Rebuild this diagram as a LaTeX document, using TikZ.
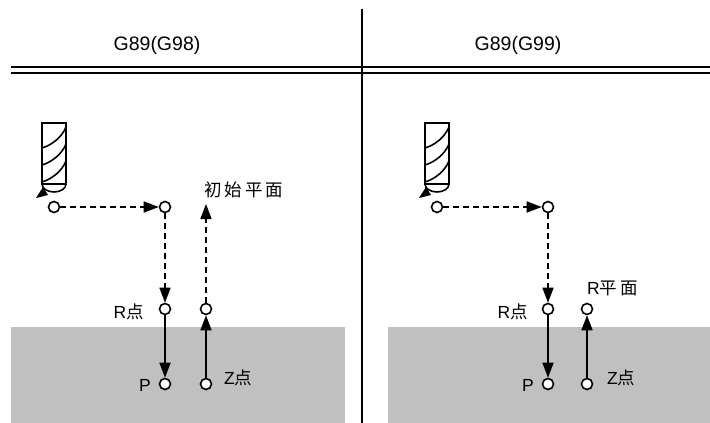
\documentclass[tikz,border=0pt]{standalone}
\usepackage{fontspec}
\setmainfont{Liberation Sans}
\newfontfamily\cjk{Noto Sans CJK SC}
\usetikzlibrary{arrows.meta}
\definecolor{ground}{RGB}{192,192,192}
\newcommand\millcutter[1]{%
  \begin{scope}[shift={#1},line width=1.6pt]
    \draw (-12,-23) rectangle (12,-84);
    \draw (-12,-23) arc[start angle=180,end angle=0,x radius=12,y radius=8];
    \draw (-12,-59) .. controls (-2,-62) and (8,-70) .. (12,-80);
    \draw (-12,-42) .. controls (-2,-45) and (8,-53) .. (12,-63);
    \draw (-12,-25) .. controls (-2,-28) and (8,-36) .. (12,-46);
    \fill (-11,-20) -- (-6,-12) -- (-18,-9) -- cycle;
  \end{scope}}
\begin{document}
\begin{tikzpicture}[x=1pt,y=-1pt,
  pnt/.style={circle,draw,fill=white,line width=1.6pt,minimum size=11pt,inner sep=0pt},
  arr/.style={-{Triangle[length=15pt,width=11pt]},line width=1.6pt},
  dsh/.style={arr,dash pattern=on 6pt off 4pt},
  lbl/.style={font=\fontsize{17.5}{17.5}\selectfont,inner sep=0pt},
  ttl/.style={font=\fontsize{19.5}{19.5}\selectfont,inner sep=0pt}]
\useasboundingbox (0,0) rectangle (710,423);
\fill[ground] (11,327) rectangle (345,423);
\fill[ground] (388,327) rectangle (710,423);
\draw[line width=2pt] (11,67) -- (710,67);
\draw[line width=1.5pt] (11,73) -- (710,73);
\draw[line width=1.8pt] (362,9) -- (362,423);
\node[ttl] (h1) at (157,45) {G89(G98)};
\node[ttl] (h2) at (518,45) {G89(G99)};
% left panel
\millcutter{(54,207)}
\node[pnt] (a1) at (54,207) {};
\node[pnt] (b1) at (165,207) {};
\node[pnt] (r1) at (165,309) {};
\node[pnt] (p1) at (165,384) {};
\node[pnt] (u1) at (206,309) {};
\node[pnt] (z1) at (206,384) {};
\coordinate (top1) at (206,204);
\draw[dsh] (a1) -- (b1);
\draw[dsh] (b1) -- (r1);
\draw[arr] (r1) -- (p1);
\draw[arr] (z1) -- (u1);
\draw[dsh] (u1) -- (top1);
\node[lbl] (t1) at (244,190) {\cjk 初\hspace{3pt}始\hspace{3pt}平\hspace{3pt}面};
\node[lbl,anchor=east] (lr1) at (144,312) {R\cjk 点};
\node[lbl,anchor=east] (lp1) at (151,385) {P};
\node[lbl,anchor=west] (lz1) at (224,378) {Z\cjk 点};
% right panel
\millcutter{(437,207)}
\node[pnt] (a2) at (437,207) {};
\node[pnt] (b2) at (548,207) {};
\node[pnt] (r2) at (548,309) {};
\node[pnt] (p2) at (548,384) {};
\node[pnt] (u2) at (587,309) {};
\node[pnt] (z2) at (587,384) {};
\draw[dsh] (a2) -- (b2);
\draw[dsh] (b2) -- (r2);
\draw[arr] (r2) -- (p2);
\draw[arr] (z2) -- (u2);
\node[lbl,anchor=west] (t2) at (587,288) {R\cjk 平\hspace{3pt}面};
\node[lbl,anchor=east] (lr2) at (528,312) {R\cjk 点};
\node[lbl,anchor=east] (lp2) at (534,385) {P};
\node[lbl,anchor=west] (lz2) at (607,378) {Z\cjk 点};
\end{tikzpicture}
\end{document}
